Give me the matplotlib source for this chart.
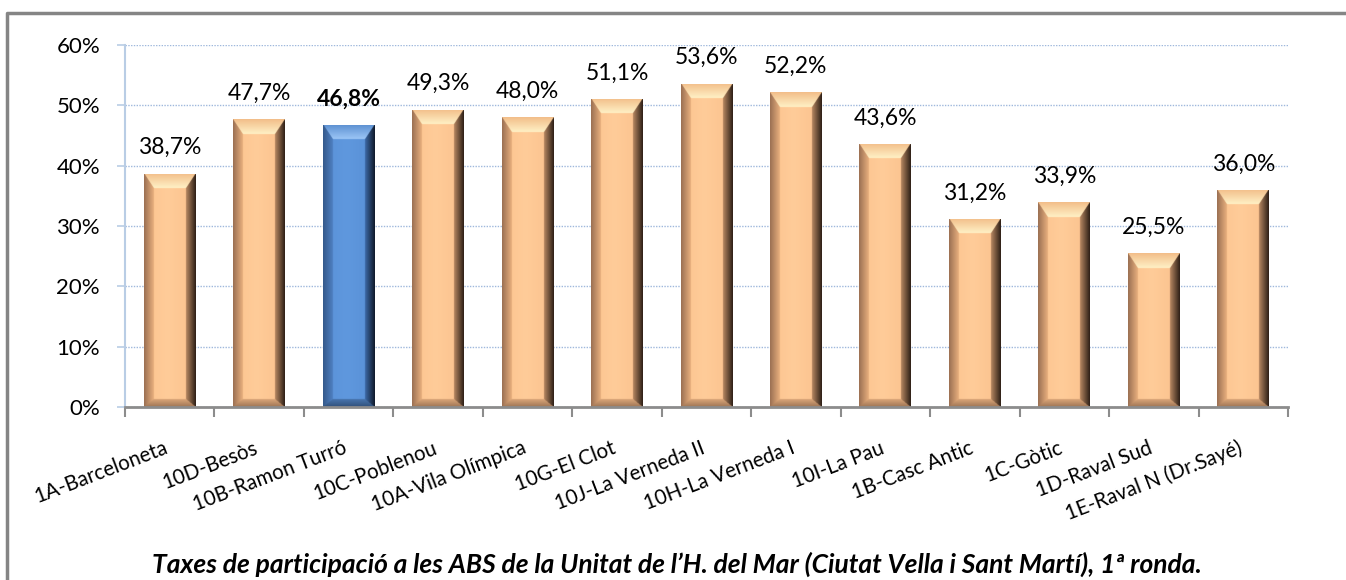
import numpy as np
import matplotlib
matplotlib.use("Agg")
import matplotlib.pyplot as plt
import matplotlib.ticker as ticker
from matplotlib.colors import to_rgb
from matplotlib.lines import Line2D

plt.rcParams['font.family'] = ['Lato', 'DejaVu Sans']

# data
categories = ['1A-Barceloneta', '10D-Besòs', '10B-Ramon Turró', '10C-Poblenou',
              '10A-Vila Olímpica', '10G-El Clot', '10J-La Verneda II', '10H-La Verneda I',
              '10I-La Pau', '1B-Casc Antic', '1C-Gòtic', '1D-Raval Sud', '1E-Raval N (Dr.Sayé)']
rates = [38.7, 47.7, 46.8, 49.3, 48.0, 51.1, 53.6, 52.2, 43.6, 31.2, 33.9, 25.5, 36.0]
highlight = '10B-Ramon Turró'
title = "Taxes de participació a les ABS de la Unitat de l’H. del Mar (Ciutat Vella i Sant Martí), 1ª ronda."

# bevel palettes: (outer, inner) per side, plus face
peach = {'face': ('#fbc28e', '#ffcc99'), 'top': ('#f2bd88', '#fff1c6'),
         'left': ('#9a6f52', '#e9b07e'), 'right': ('#2c1e15', '#b88862'),
         'bottom': ('#9d7454', '#dba679')}
blue = {'face': ('#5990d6', '#5f98de'), 'top': ('#5a8ed0', '#9cc6f6'),
        'left': ('#34598a', '#4f80c2'), 'right': ('#0f1828', '#3d6aa8'),
        'bottom': ('#30507a', '#4875ae')}


def mix(c1, c2, t):
    a = np.array(to_rgb(c1))
    b = np.array(to_rgb(c2))
    t = np.clip(t, 0, 1)[..., None]
    return a * (1 - t) + b * t


def bevel_bar(ax, patch, pal, upp):
    x0, y0 = patch.get_x(), patch.get_y()
    w, h = patch.get_width(), patch.get_height()
    wpx = 52.0
    hpx = h / upp
    nx, ny = 104, max(int(hpx * 2), 4)
    u = (np.arange(nx) + 0.5) / nx
    v = (np.arange(ny) + 0.5) / ny  # 0 = top, 1 = bottom (image rows)
    U, V = np.meshgrid(u, v)
    dl = U * wpx
    dr = (1 - U) * wpx
    dt = V * hpx
    db = (1 - V) * hpx
    bs, bt, bb = 10.0, 15.0, 8.0
    nl, nr, nt, nb = dl / bs, dr / bs, dt / bt, db / bb
    stack = np.stack([nl, nr, nt, nb])
    which = np.argmin(stack, axis=0)
    mn = np.min(stack, axis=0)
    img = mix(pal['face'][0], pal['face'][1], 1 - np.abs(U - 0.45) * 2)
    for k, side in enumerate(['left', 'right', 'top', 'bottom']):
        m = (which == k) & (mn < 1)
        col = mix(pal[side][0], pal[side][1], mn)
        img[m] = col[m]
    im = ax.imshow(img, extent=(x0, x0 + w, y0, y0 + h), aspect='auto',
                   zorder=2, interpolation='bilinear')
    im.set_clip_path(patch)


fig = plt.figure(figsize=(13.46, 5.8), dpi=100)
ax = fig.add_axes([125 / 1346, 173 / 580, 1163 / 1346, 362 / 580])

xpos = np.arange(len(categories))
bars = ax.bar(xpos, rates, width=0.58, color='none', edgecolor='none', zorder=2)

ax.set_xlim(-0.5, len(categories) - 0.5)
ax.set_ylim(0, 60)
upp = 60 / 362.0

for cat, b, val in zip(categories, bars, rates):
    pal = blue if cat == highlight else peach
    bevel_bar(ax, b, pal, upp)
    ax.annotate(f"{val:.1f}%".replace('.', ','), (b.get_x() + b.get_width() / 2, val),
                xytext=(0, 11), textcoords='offset points', ha='center', va='bottom',
                fontsize=16.5, color='black',
                fontweight='bold' if cat == highlight else 'normal')

ax.yaxis.set_major_locator(ticker.MultipleLocator(10))
ax.yaxis.set_major_formatter(ticker.FuncFormatter(lambda v, p: f"{v:.0f}%"))
ax.grid(axis='y', color='#9fb8dc', linestyle=(0, (1, 1)), linewidth=1.0, zorder=0)
ax.set_axisbelow(True)

ax.set_xticks(xpos)
ax.set_xticklabels(categories, rotation=21, ha='right', va='baseline',
                   rotation_mode='anchor', fontsize=14.8)
ax.set_xticks(np.arange(len(categories) + 1) - 0.5, minor=True)
ax.tick_params(axis='x', which='major', length=0, pad=33)
ax.tick_params(axis='x', which='minor', length=7, width=1.5, color='#8c8c8c', direction='out')
ax.tick_params(axis='y', length=6, width=1.2, color='#b9cde5', labelsize=16, pad=12)

for s in ['top', 'right']:
    ax.spines[s].set_visible(False)
ax.spines['left'].set_color('#b9cde5')
ax.spines['left'].set_linewidth(1.5)
ax.spines['bottom'].set_color('#8c8c8c')
ax.spines['bottom'].set_linewidth(2)
ax.spines['bottom'].set_zorder(3)

fig.text(677 / 1346, 1 - 564 / 580, title, ha='center', va='center',
         fontsize=19, fontweight='bold', fontstyle='italic')

# outer frame (left and top edges)
fig.add_artist(Line2D([7 / 1346, 7 / 1346, 1.0], [0.0, 1 - 13 / 580, 1 - 13 / 580],
                      transform=fig.transFigure, color='#858585', linewidth=2.5))

fig.savefig('out.png', dpi=100)
